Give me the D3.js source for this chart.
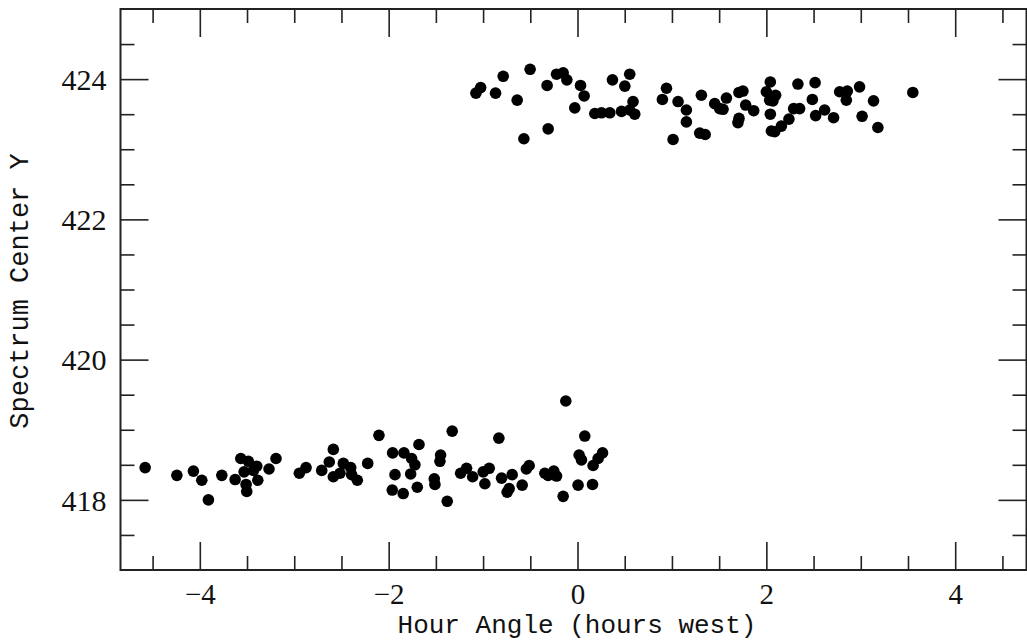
<!DOCTYPE html>
<html>
<head>
<meta charset="utf-8">
<script src="https://cdn.jsdelivr.net/npm/d3@7"></script>
<style>
  html, body { margin: 0; padding: 0; background: #fff; }
  svg { display: block; }
</style>
</head>
<body>
<svg id="chart" width="1027" height="644"></svg>
<script>
// ---- Data ----
// Upper group: hour angle (hours west) and spectrum center Y
const upperHourAngle = [
  -1.076, -1.026, -0.868, -0.787, -0.639, -0.502, -0.568, -0.322, -0.311, -0.222,
  -0.152, -0.113, 0.032, 0.070, -0.029, 0.183, 0.254, 0.342, 0.370, 0.553,
  0.501, 0.466, 0.553, 0.588, 0.606, 0.942, 0.899, 1.065, 1.153, 1.153,
  1.012, 1.312, 1.294, 1.352, 1.453, 1.506, 1.541, 1.577, 1.710, 1.752,
  1.781, 1.866, 1.710, 1.699, 2.042, 2.000, 2.053, 2.098, 2.035, 2.070,
  2.042, 2.053, 2.088, 2.159, 2.239, 2.289, 2.352, 2.334, 2.516, 2.487,
  2.522, 2.617, 2.712, 2.776, 2.857, 2.847, 2.987, 3.135, 3.014, 3.181,
  3.551
];
const upperSpectrumY = [
  423.80, 423.88, 423.80, 424.04, 423.70, 424.14, 423.15, 423.91, 423.29, 424.07,
  424.09, 423.99, 423.91, 423.76, 423.59, 423.51, 423.52, 423.52, 423.99, 424.07,
  423.90, 423.54, 423.56, 423.68, 423.50, 423.87, 423.71, 423.68, 423.56, 423.39,
  423.14, 423.77, 423.23, 423.21, 423.65, 423.58, 423.57, 423.73, 423.81, 423.83,
  423.63, 423.55, 423.44, 423.38, 423.96, 423.82, 423.75, 423.77, 423.70, 423.69,
  423.50, 423.26, 423.25, 423.33, 423.43, 423.58, 423.58, 423.93, 423.95, 423.71,
  423.48, 423.56, 423.45, 423.82, 423.83, 423.70, 423.89, 423.69, 423.47, 423.31,
  423.81
];
// Lower group
const lowerHourAngle = [
  -4.579, -4.243, -4.068, -3.979, -3.909, -3.767, -3.566, -3.486, -3.397, -3.433,
  -3.531, -3.626, -3.510, -3.503, -3.386, -3.267, -3.193, -2.946, -2.875, -2.709,
  -2.629, -2.586, -2.586, -2.480, -2.402, -2.515, -2.392, -2.332, -2.222, -2.103,
  -1.958, -1.838, -1.757, -1.722, -1.679, -1.933, -1.767, -1.962, -1.846, -1.697,
  -1.450, -1.457, -1.517, -1.510, -1.327, -1.380, -1.238, -1.175, -1.111, -0.999,
  -0.935, -0.981, -0.833, -0.804, -0.692, -0.745, -0.724, -0.586, -0.512, -0.542,
  -0.346, -0.251, -0.222, -0.311, -0.152, -0.124, 0.077, 0.017, 0.042, 0.006,
  0.165, 0.218, 0.265, 0.159
];
const lowerSpectrumY = [
  418.46, 418.35, 418.41, 418.28, 418.00, 418.35, 418.59, 418.55, 418.48, 418.42,
  418.40, 418.29, 418.22, 418.12, 418.28, 418.44, 418.59, 418.38, 418.46, 418.42,
  418.54, 418.72, 418.33, 418.52, 418.46, 418.38, 418.36, 418.28, 418.52, 418.92,
  418.67, 418.67, 418.59, 418.50, 418.79, 418.36, 418.37, 418.14, 418.09, 418.18,
  418.64, 418.55, 418.30, 418.22, 418.98, 417.98, 418.38, 418.45, 418.33, 418.40,
  418.45, 418.23, 418.88, 418.31, 418.36, 418.11, 418.16, 418.21, 418.49, 418.44,
  418.38, 418.41, 418.34, 418.35, 418.05, 419.41, 418.91, 418.64, 418.57, 418.21,
  418.49, 418.59, 418.67, 418.22
];

// Axis tick values and labels
const xMajorTicks = [-4, -2, 0, 2, 4];
const xMinorTicks = [-4.5, -3.5, -3, -2.5, -1.5, -1, -0.5, 0.5, 1, 1.5, 2.5, 3, 3.5, 4.5];
const yMajorTicks = [418, 420, 422, 424];
const yMinorTicks = [417.5, 418.5, 419, 419.5, 420.5, 421, 421.5, 422.5, 423, 423.5, 424.5];
const xTitle = "Hour Angle (hours west)";
const yTitle = "Spectrum Center Y";

// ---- Layout ----
const svg = d3.select("#chart");
const plotLeft = 120.5, plotRight = 1026.5, plotTop = 9, plotBottom = 570;
const x = d3.scaleLinear().domain([-4.84, 4.755]).range([plotLeft, plotRight]);
const y = d3.scaleLinear().domain([417, 425]).range([plotBottom, plotTop]);

const axisColor = "#222";
const majorLen = 28, minorLen = 14;

function styleAxis(g) {
  g.select(".domain").remove();
  g.selectAll(".tick line").attr("stroke", axisColor).attr("stroke-width", 1.6);
}

// Bottom axis: major with labels, minor without
const gB = svg.append("g").attr("transform", `translate(0,${plotBottom})`)
  .call(d3.axisBottom(x).tickValues(xMajorTicks).tickSize(-majorLen).tickFormat(d3.format("d")));
styleAxis(gB);
gB.selectAll(".tick text")
  .attr("y", 34).attr("dy", 0)
  .attr("font-family", "'Liberation Serif', 'DejaVu Serif', serif")
  .attr("font-size", 29).attr("fill", "#111");
const gBm = svg.append("g").attr("transform", `translate(0,${plotBottom})`)
  .call(d3.axisBottom(x).tickValues(xMinorTicks).tickSize(-minorLen).tickFormat(""));
styleAxis(gBm);

// Top axis (ticks inward, no labels)
const gT = svg.append("g").attr("transform", `translate(0,${plotTop})`)
  .call(d3.axisTop(x).tickValues(xMajorTicks).tickSize(-majorLen).tickFormat(""));
styleAxis(gT);
const gTm = svg.append("g").attr("transform", `translate(0,${plotTop})`)
  .call(d3.axisTop(x).tickValues(xMinorTicks).tickSize(-minorLen).tickFormat(""));
styleAxis(gTm);

// Left axis
const gL = svg.append("g").attr("transform", `translate(${plotLeft},0)`)
  .call(d3.axisLeft(y).tickValues(yMajorTicks).tickSize(-majorLen).tickFormat(d3.format("d")));
styleAxis(gL);
gL.selectAll(".tick text")
  .attr("x", -14).attr("dy", "0.34em")
  .attr("font-family", "'Liberation Serif', 'DejaVu Serif', serif")
  .attr("font-size", 30).attr("fill", "#111");
const gLm = svg.append("g").attr("transform", `translate(${plotLeft},0)`)
  .call(d3.axisLeft(y).tickValues(yMinorTicks).tickSize(-minorLen).tickFormat(""));
styleAxis(gLm);

// Right axis
const gR = svg.append("g").attr("transform", `translate(${plotRight},0)`)
  .call(d3.axisRight(y).tickValues(yMajorTicks).tickSize(-majorLen).tickFormat(""));
styleAxis(gR);
const gRm = svg.append("g").attr("transform", `translate(${plotRight},0)`)
  .call(d3.axisRight(y).tickValues(yMinorTicks).tickSize(-minorLen).tickFormat(""));
styleAxis(gRm);

// Frame
svg.append("rect")
  .attr("x", plotLeft).attr("y", plotTop)
  .attr("width", plotRight - plotLeft).attr("height", plotBottom - plotTop)
  .attr("fill", "none").attr("stroke", axisColor).attr("stroke-width", 2);

// Points
const points = upperHourAngle.map((h, i) => ({ h, v: upperSpectrumY[i] }))
  .concat(lowerHourAngle.map((h, i) => ({ h, v: lowerSpectrumY[i] })));
svg.append("g").selectAll("circle").data(points).join("circle")
  .attr("cx", d => x(d.h)).attr("cy", d => y(d.v))
  .attr("r", 5.8).attr("fill", "#000");

// Axis titles
svg.append("text")
  .attr("x", 577).attr("y", 633)
  .attr("text-anchor", "middle")
  .attr("font-family", "'Liberation Mono', 'DejaVu Sans Mono', monospace")
  .attr("font-size", 26).attr("fill", "#111")
  .text(xTitle);
svg.append("text")
  .attr("transform", "translate(28,291) rotate(-90)")
  .attr("text-anchor", "middle")
  .attr("font-family", "'Liberation Mono', 'DejaVu Sans Mono', monospace")
  .attr("font-size", 27).attr("fill", "#111")
  .text(yTitle);
</script>
</body>
</html>
